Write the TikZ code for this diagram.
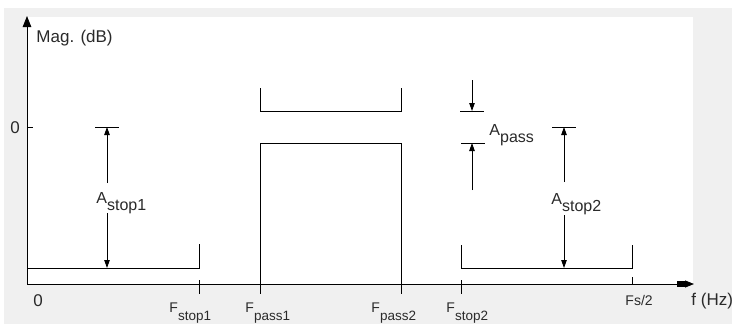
\documentclass[tikz,border=0pt]{standalone}
\usepackage{fontspec}
\setmainfont{Liberation Sans}
\usetikzlibrary{arrows.meta}
\definecolor{bggray}{HTML}{F0F0F0}
\definecolor{txtgray}{HTML}{2A2A2A}
\begin{document}
\begin{tikzpicture}[x=1pt,y=-1pt,line width=0.9pt,
  curve/.style={draw=black,line cap=butt,line join=miter},
  dimarrow/.style={draw=black,-{Triangle[length=8pt,width=5.5pt]}},
  ticklbl/.style={font=\fontsize{14}{14}\selectfont,text=txtgray,inner sep=0pt,anchor=base west},
  axlbl/.style={font=\fontsize{17}{17}\selectfont,text=txtgray,inner sep=0pt},
  albl/.style={font=\fontsize{16}{16}\selectfont,text=txtgray,inner sep=0pt,anchor=base west}]
\useasboundingbox (0,0) rectangle (732,324);
\fill[white] (0,0) rectangle (732,324);
\fill[bggray] (4,8) rectangle (732,324);
\fill[white] (27,17) rectangle (693,284);

% axes
\coordinate (O) at (27,284);
\coordinate (ytop) at (27,16);
\coordinate (xend) at (694,284);
\draw[-{Triangle[length=11pt,width=8.5pt]}] (O) -- (ytop);
\draw[-{Rectangle[length=8pt,width=6pt,sep=0pt]Triangle[length=9pt,width=7pt]}] (O) -- (xend);
\node[axlbl,anchor=base west] (mag) at (36,42) {Mag. (dB)};
\node[axlbl,anchor=base west] (fhz) at (691,305) {f (Hz)};

% zero tick
\coordinate (z0) at (27,127);
\coordinate (z1) at (33,127);
\draw (z0) -- (z1);
\node[axlbl,anchor=base] (zlbl) at (15,133) {0};
\node[axlbl,anchor=base] (olbl) at (38,306) {0};

% x ticks
\foreach \n/\x in {fs1/199,fp1/260,fp2/401,fs2/461}{
  \coordinate (\n a) at (\x,280);
  \coordinate (\n b) at (\x,294);
  \draw (\n a) -- (\n b);
}
\coordinate (fna) at (632,277);
\coordinate (fnb) at (632,285);
\draw (fna) -- (fnb);

\node[ticklbl] (Lfs1) at (169,312) {F\raisebox{-8pt}{\fontsize{13.5}{13.5}\selectfont stop1}};
\node[ticklbl] (Lfp1) at (245,312) {F\raisebox{-8pt}{\fontsize{13.5}{13.5}\selectfont pass1}};
\node[ticklbl] (Lfp2) at (371,312) {F\raisebox{-8pt}{\fontsize{13.5}{13.5}\selectfont pass2}};
\node[ticklbl] (Lfs2) at (446,312) {F\raisebox{-8pt}{\fontsize{13.5}{13.5}\selectfont stop2}};
\node[ticklbl] (Lfn) at (625,305) {Fs/2};

% stopband 1
\coordinate (s1a) at (27,268);
\coordinate (s1b) at (199,268);
\coordinate (s1c) at (199,244);
\draw[curve] (s1a) -- (s1b) -- (s1c);

% passband upper bracket
\coordinate (pu1) at (260,88);
\coordinate (pu2) at (260,111);
\coordinate (pu3) at (401,111);
\coordinate (pu4) at (401,88);
\draw[curve] (pu1) -- (pu2) -- (pu3) -- (pu4);

% passband lower
\coordinate (pl1) at (260,284);
\coordinate (pl2) at (260,143);
\coordinate (pl3) at (401,143);
\coordinate (pl4) at (401,284);
\draw[curve] (pl1) -- (pl2) -- (pl3) -- (pl4);

% stopband 2
\coordinate (s2a) at (461,245);
\coordinate (s2b) at (461,268);
\coordinate (s2c) at (632,268);
\coordinate (s2d) at (632,245);
\draw[curve] (s2a) -- (s2b) -- (s2c) -- (s2d);

% A_stop1
\coordinate (b1l) at (95,127);
\coordinate (b1r) at (119,127);
\draw (b1l) -- (b1r);
\coordinate (a1top) at (107,127);
\coordinate (a1m1) at (107,183);
\coordinate (a1m2) at (107,213);
\coordinate (a1bot) at (107,268);
\draw[dimarrow] (a1m1) -- (a1top);
\draw[dimarrow] (a1m2) -- (a1bot);
\node[albl] (La1) at (96,203) {A\raisebox{-7pt}{stop1}};

% A_stop2
\coordinate (b2l) at (552,127);
\coordinate (b2r) at (576,127);
\draw (b2l) -- (b2r);
\coordinate (a2top) at (564,127);
\coordinate (a2m1) at (564,182);
\coordinate (a2m2) at (564,215);
\coordinate (a2bot) at (564,268);
\draw[dimarrow] (a2m1) -- (a2top);
\draw[dimarrow] (a2m2) -- (a2bot);
\node[albl] (La2) at (551,204) {A\raisebox{-7pt}{stop2}};

% A_pass
\coordinate (bpu l) at (460,111);
\coordinate (bpu r) at (484,111);
\coordinate (bpl l) at (461,143);
\coordinate (bpl r) at (485,143);
\draw (bpu l) -- (bpu r);
\draw (bpl l) -- (bpl r);
\coordinate (ap1) at (472,80);
\coordinate (ap2) at (472,111);
\coordinate (ap3) at (472,190);
\coordinate (ap4) at (472,143);
\draw[dimarrow] (ap1) -- (ap2);
\draw[dimarrow] (ap3) -- (ap4);
\node[albl] (Lap) at (489,135) {A\raisebox{-7pt}{pass}};
\end{tikzpicture}
\end{document}
